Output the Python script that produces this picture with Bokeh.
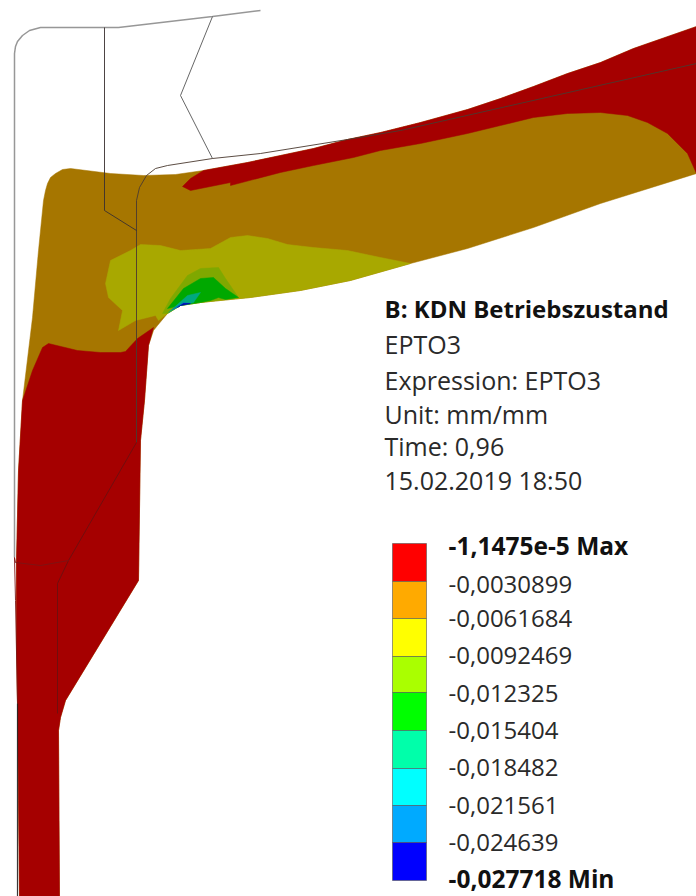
from bokeh.plotting import figure
from bokeh.embed import file_html
from bokeh.resources import INLINE
from bokeh.core.properties import value
from bokeh.models import Range1d

# Reference picture coordinates (x right, y down)
body_x = [19,18,17,16,16,18,22,32,38,43,45,47,50,55,62,70,110,143,175,203,247,280,313,347,380,420,467,500,533,567,600,633,696,696,
          600,533,467,410,350,300,250,200,180,167,157,153,148,144,140,138,65,60,58,59]
body_y = [896,800,703,640,560,470,400,317,250,200,190,183,177,173,169,168,173,175,174,170,162,155,148,139,132,122,109,98,86,73,62,48,26,173,
          203,227,248,263,280,290,297,302,305,313,325,330,345,400,440,580,700,717,730,896]

strip_x = [182,190,203,247,280,313,347,380,420,467,500,533,567,600,633,696,696,687,667,647,627,600,567,533,500,467,420,380,353,313,280,230,230,190]
strip_y = [186,178,170,162,155,148,139,132,122,109,98,86,73,62,48,26,173,153,133,122,115,112,113,117,125,133,143,150,157,165,172,185,182,190]

lower_x = [22,32,42,48,77,100,120,125,137,153,148,144,140,138,65,60,58,59,19,18,17,16,16,18]
lower_y = [400,370,347,343,350,352,352,351,338,327,345,400,440,580,700,717,730,896,896,800,703,640,560,470]

olive_x = [118,122,108,105,110,130,140,160,180,210,230,247,267,287,313,347,380,410,350,300,250,200,180,167,158,155,135]
olive_y = [330,310,297,283,260,250,244,245,250,248,237,235,238,244,247,250,257,263,280,290,297,302,305,313,320,315,320]

lime_x = [162,170,187,200,218,225,238,200,180,167]
lime_y = [313,298,275,268,267,278,297,302,305,313]

green_x = [167,183,200,213,225,238,225,218,210,200,180]
green_y = [308,288,278,277,288,297,299,297,300,302,305]

teal_x = [168,187,200,193,180]
teal_y = [312,295,292,302,305]

sky_x = [172,183,190,180]
sky_y = [309,302,303,305]

blue_x = [177,183,190,180]
blue_y = [307,303,303,305]

outer_x = [14,14,15,17,22,29,40,118,212,260]
outer_y = [557,53,46,41,35,30,27,27,16,10]
zig_x = [212,180,212]
zig_y = [16,95,158]
inner_top_x = [696,400,347,260,212,167,155,146,139,136,136]
inner_top_y = [63,130,139,153,158,165,168,175,187,200,442]
inner_low_x = [136,68,57,57]
inner_low_y = [442,560,583,713]
bracket_x = [104,104,136]
bracket_y = [27,210,230]
foot_x = [14,15,40,68]
foot_y = [557,562,565,560]
wall_red_x = [14,15,17]
wall_red_y = [557,600,703]
wall_x = [17,17]
wall_y = [703,896]

body_color = "#A67600"
red_color = "#A50000"
olive_color = "#A8A800"
lime_color = "#7FA800"
green_color = "#00A800"
teal_color = "#00A87F"
sky_color = "#0070C8"
blue_color = "#0000A8"

bar_edges = [543,581,618,656,692,730,768,805,842,880]
bar_colors = ["#FF0000","#FFAA00","#FFFF00","#AAFF00","#00FF00","#00FFAA","#00FFFF","#00AAFF","#0000FF"]
bar_left, bar_right = 392, 426

legend_labels = ["-1,1475e-5 Max","-0,0030899","-0,0061684","-0,0092469","-0,012325",
                 "-0,015404","-0,018482","-0,021561","-0,024639","-0,027718 Min"]
legend_y = [545,584,618,655,693,730,767,805,842,878]
legend_bold = [True]+[False]*8+[True]

info_lines = ["B: KDN Betriebszustand","EPTO3","Expression: EPTO3","Unit: mm/mm","Time: 0,96","15.02.2019 18:50"]
info_y = [308,343,379,413,445,479]
info_bold = [True,False,False,False,False,False]

FONT = value("Open Sans")

p = figure(width=696, height=896, output_backend="svg", toolbar_location=None,
           x_range=Range1d(0,696), y_range=Range1d(896,0), min_border=0,
           x_axis_type=None, y_axis_type=None, outline_line_color=None, background_fill_color="white")
p.grid.visible = False

for xs, ys, c in [(body_x,body_y,body_color),(strip_x,strip_y,red_color),(lower_x,lower_y,red_color),
                  (olive_x,olive_y,olive_color),(lime_x,lime_y,lime_color),(green_x,green_y,green_color),
                  (teal_x,teal_y,teal_color),(sky_x,sky_y,sky_color),(blue_x,blue_y,blue_color)]:
    p.patch(xs, ys, fill_color=c, line_color=c, line_width=0.5)

for xs, ys, c, w in [(outer_x,outer_y,"#8c8c8c",1.5),(zig_x,zig_y,"#555555",1),(inner_top_x,inner_top_y,"#4a3a30",1),
                     (inner_low_x,inner_low_y,"#6a1010",1),(bracket_x,bracket_y,"#3a3030",1),(foot_x,foot_y,"#7a1515",1),
                     (wall_red_x,wall_red_y,"#7a1515",1),(wall_x,wall_y,"#222222",1.2)]:
    p.line(xs, ys, line_color=c, line_width=w, line_alpha=0.9)

p.quad(left=bar_left, right=bar_right, top=bar_edges[:-1], bottom=bar_edges[1:], fill_color=bar_colors,
       line_color="#555555", line_width=0.6)

for txt, y, b in zip(legend_labels, legend_y, legend_bold):
    p.text([448],[y],text=[txt],text_font=FONT,text_font_size="24.5px" if b else "24px",text_baseline="middle",text_align="left",
           text_color="#111111" if b else "#2a2a2a", text_font_style="bold" if b else "normal")
for txt, y, b in zip(info_lines, info_y, info_bold):
    p.text([384],[y],text=[txt],text_font=FONT,text_font_size="24px" if b else "25px",text_baseline="middle",text_align="left",
           text_color="#111111" if b else "#2a2a2a", text_font_style="bold" if b else "normal")

open("out.html","w").write(file_html(p, INLINE))
